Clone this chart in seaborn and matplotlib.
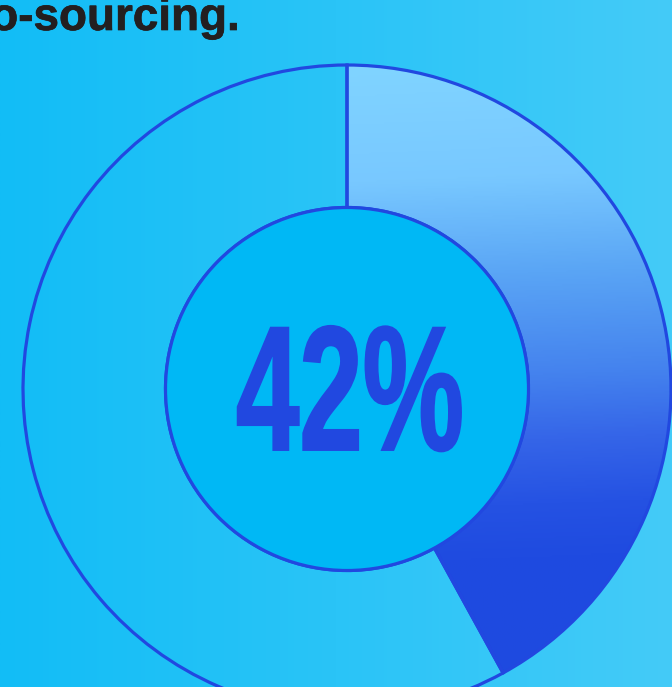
import numpy as np
import matplotlib
matplotlib.use("Agg")
import matplotlib.pyplot as plt
import seaborn as sns
from matplotlib.colors import LinearSegmentedColormap
from matplotlib.patches import Circle
from matplotlib.patheffects import AbstractPathEffect, withStroke
from matplotlib.transforms import Affine2D

# --- data -------------------------------------------------------------
share_labels = ["Co-sourcing", "Other"]
share_values = [42, 58]
headline = "co-sourcing."
center_label = f"{share_values[0]}%"

# --- style ------------------------------------------------------------
sns.set_theme(style="white")
plt.rcParams["font.family"] = ["Liberation Sans", "DejaVu Sans"]

OUTLINE = "#2148E0"
HOLE = "#00B8F5"
TEXT_DARK = "#231F20"

W, H = 672, 687
fig = plt.figure(figsize=(W / 100, H / 100), dpi=100)
ax = fig.add_axes([0, 0, 1, 1])

# horizontal background gradient
bg_cmap = LinearSegmentedColormap.from_list("bg", ["#12BDF6", "#2AC4F7", "#44CBF8"])
ax.imshow(np.linspace(0, 1, 256)[None, :], cmap=bg_cmap, extent=(0, W, 0, H),
          aspect="auto", zorder=0, interpolation="bilinear")

# donut geometry (pixel units, y up)
cx, cy = 347, H - 389
R_out, R_in = 324, 181.5

wedges, _ = ax.pie(
    share_values,
    startangle=90,
    counterclock=False,
    radius=R_out,
    center=(cx, cy),
    colors=["none", "none"],
    wedgeprops=dict(width=R_out - R_in, edgecolor=OUTLINE, linewidth=2.3, zorder=3),
)

# top-to-bottom gradient fill for the highlighted share (row 0 = top)
grad_cmap = LinearSegmentedColormap.from_list(
    "share", [(0.0, "#80D4FF"), (0.18, "#78C8FF"), (0.33, "#5AA5F5"),
              (0.49, "#4482EE"), (0.59, "#3565E8"), (0.69, "#2552E3"),
              (0.77, "#1F4BE0"), (1.0, "#1E4AE0")])
yy = np.linspace(0, 1, 400)[:, None]
xx = np.linspace(0, 1, 200)[None, :]
field = np.clip(yy + 0.04 * (xx - 0.5), 0, 1)
img = ax.imshow(field, cmap=grad_cmap, vmin=0, vmax=1,
                extent=(cx - R_out, cx + R_out, cy - R_out, cy + R_out),
                aspect="auto", zorder=2, interpolation="bilinear")
img.set_clip_path(wedges[0])

# centre hole
ax.add_patch(Circle((cx, cy), R_in, facecolor=HOLE, edgecolor=OUTLINE,
                    linewidth=2.3, zorder=4))


class HSqueeze(AbstractPathEffect):
    """Compress glyph outlines horizontally around x0 and thicken them."""

    def __init__(self, sx, x0, stroke=0.0, color="k"):
        super().__init__()
        self.sx, self.x0 = sx, x0
        self.stroke, self.color = stroke, color

    def draw_path(self, renderer, gc, tpath, affine, rgbFace=None):
        squeeze = Affine2D().translate(-self.x0, 0).scale(self.sx, 1).translate(self.x0, 0)
        gc0 = renderer.new_gc()
        gc0.copy_properties(gc)
        gc0.set_linewidth(self.stroke)
        gc0.set_foreground(self.color)
        gc0.set_joinstyle("miter")
        renderer.draw_path(gc0, tpath, affine + squeeze, rgbFace)
        gc0.restore()


big = ax.text(350, H - 450, center_label, ha="center", va="baseline",
              fontsize=128, fontweight="bold", color=OUTLINE, zorder=5,
              family=["Liberation Sans Narrow", "Liberation Sans", "DejaVu Sans"])

ax.text(240, H - 30, headline, ha="right", va="baseline", fontsize=33,
        fontweight="bold", color=TEXT_DARK, zorder=5,
        path_effects=[withStroke(linewidth=0.5, foreground=TEXT_DARK)])

ax.set_xlim(0, W)
ax.set_ylim(0, H)
ax.set_aspect("auto")
ax.axis("off")

fig.canvas.draw()
bb = big.get_window_extent()
big.set_path_effects([HSqueeze(228 / bb.width, ax.transData.transform((350, 0))[0],
                               stroke=1.4, color=OUTLINE)])

fig.savefig("out.png", dpi=100)
